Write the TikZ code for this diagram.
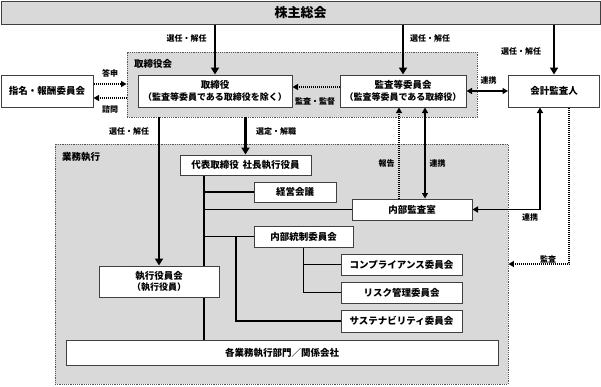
\documentclass[tikz,border=0pt]{standalone}
\usepackage{fontspec}
\setmainfont{Noto Sans CJK JP}
\usetikzlibrary{arrows.meta,calc}
\pgfdeclarelayer{bg}
\pgfdeclarelayer{lines}
\pgfsetlayers{bg,lines,main}
\definecolor{regfill}{HTML}{D9D9D9}
\definecolor{boxline}{HTML}{404040}
\definecolor{regline}{HTML}{555555}
\newcommand{\smallpar}{\fontsize{9}{11}\selectfont}
\tikzset{
  box/.style={draw=boxline,line width=1pt,fill=white,inner sep=0pt,align=center,font=\fontsize{9.5}{11.5}\selectfont\bfseries},
  region/.style={draw=regline,line width=0.9pt,dash pattern=on 1.2pt off 1pt,fill=regfill,inner sep=0pt},
  lbl/.style={font=\fontsize{8}{9}\selectfont\bfseries,inner sep=0pt},
  reglbl/.style={font=\fontsize{9.5}{11}\selectfont\bfseries,inner sep=0pt,anchor=west},
  bigarrow/.style={line width=2.2pt,-{Triangle[length=7pt,width=8pt]}},
  dblarrow/.style={line width=1.4pt,{Triangle[length=5.5pt,width=6pt]}-{Triangle[length=5.5pt,width=6pt]}},
  conn/.style={line width=1.2pt},
  dotarrow/.style={line width=1.1pt,dash pattern=on 1pt off 1pt,-{Triangle[length=5.5pt,width=6pt]}},
}
\begin{document}
\begin{tikzpicture}[x=1pt,y=-1pt]
\useasboundingbox (0,0) rectangle (601,386);
% regions
\begin{pgfonlayer}{bg}
\node[region,minimum width=350pt,minimum height=65pt] (torreg) at (302,84.5) {};
\node[region,minimum width=453pt,minimum height=240pt] (gyomu) at (281.5,264) {};
\end{pgfonlayer}
\node[reglbl] (torlbl) at (134,64) {取締役会};
\node[reglbl] (gyolbl) at (62,157) {業務執行};
% top
\node[draw=boxline,line width=1pt,fill=regfill,minimum width=599pt,minimum height=23pt,inner sep=0pt,font=\fontsize{13}{15}\selectfont\bfseries] (top) at (300.5,12.5) {株主総会};
% boxes
\node[box,minimum width=154pt,minimum height=32pt] (tor) at (215,91) {取締役\\{\smallpar（監査等委員である取締役を除く）}};
\node[box,minimum width=126pt,minimum height=32pt] (kansa) at (403,91) {監査等委員会\\{\smallpar（監査等委員である取締役）}};
\node[box,minimum width=91pt,minimum height=32pt] (kaikei) at (554,91) {会計監査人};
\node[box,minimum width=92pt,minimum height=32pt] (shimei) at (47,91) {指名・報酬委員会};
\node[box,minimum width=131pt,minimum height=20pt] (daihyo) at (245.5,165) {代表取締役\hspace{0.4em}社長執行役員};
\node[box,minimum width=82pt,minimum height=20pt] (keiei) at (295,192) {経営会議};
\node[box,minimum width=120pt,minimum height=21pt] (naibu) at (412,209.5) {内部監査室};
\node[box,minimum width=99pt,minimum height=21pt] (tosei) at (303.5,236.5) {内部統制委員会};
\node[box,minimum width=121pt,minimum height=21pt] (comp) at (401.5,264.5) {コンプライアンス委員会};
\node[box,minimum width=121pt,minimum height=21pt] (risk) at (401.5,292.5) {リスク管理委員会};
\node[box,minimum width=121pt,minimum height=22pt] (sust) at (401.5,321) {サステナビリティ委員会};
\node[box,minimum width=120pt,minimum height=31pt] (shikko) at (159,281.5) {執行役員会\\{\smallpar（執行役員）}};
\node[box,minimum width=432pt,minimum height=25pt] (kaku) at (282,352.5) {各業務執行部門／関係会社};
% helper x positions
\coordinate (trunk) at (204,0);
\coordinate (bx) at (236,0);
\coordinate (hx) at (399,0);
\coordinate (rx) at (425,0);
\coordinate (kx) at (540,0);
\coordinate (dx) at (569,0);
% connectors
\begin{pgfonlayer}{lines}
\draw[bigarrow] (tor.north |- top.south) -- (tor.north);
\draw[bigarrow] (kansa.north |- top.south) -- (kansa.north);
\draw[bigarrow] (kaikei.north |- top.south) -- (kaikei.north);
\draw[bigarrow] (shikko.north |- torreg.south) -- (shikko.north);
\draw[bigarrow] (daihyo.north |- torreg.south) -- (daihyo.north);
\draw[dblarrow] (kansa.east) -- (kaikei.west);
\draw[dotarrow] ([yshift=4pt]kansa.west) -- ([yshift=4pt]tor.east);
\draw[dotarrow] ([yshift=7pt]shimei.east) -- ([yshift=7pt]shimei.east -| torreg.west);
\draw[dotarrow] ([yshift=-7pt]shimei.east -| torreg.west) -- ([yshift=-7pt]shimei.east);
\draw[conn] (trunk |- daihyo.south) -- (trunk |- kaku.north);
\draw[conn] (trunk |- keiei.west) -- (keiei.west);
\draw[conn] (trunk |- naibu.west) -- (naibu.west);
\draw[conn] (trunk |- tosei.west) -- (tosei.west);
\draw[conn] (bx |- tosei.west) -- (bx |- sust.west) -- (sust.west);
\draw[conn] (tosei.south) |- (risk.west);
\draw[conn] (tosei.south |- comp.west) -- (comp.west);
\draw[dotarrow] (hx |- naibu.north) -- (hx |- kansa.south);
\draw[dblarrow] (rx |- kansa.south) -- (rx |- naibu.north);
\draw[dblarrow] (kx |- kaikei.south) |- (naibu.east);
\draw[dotarrow] (dx |- kaikei.south) |- (gyomu.east);
\end{pgfonlayer}
% labels
\node[lbl] (l1) at (186.5,38.5) {選任・解任};
\node[lbl] (l2) at (430,38.5) {選任・解任};
\node[lbl] (l3) at (521,51) {選任・解任};
\node[lbl] (l4) at (110,73) {答申};
\node[lbl] (l5) at (110,109.5) {諮問};
\node[lbl] (l6) at (315,101.5) {監査・監督};
\node[lbl] (l7) at (488.5,80) {連携};
\node[lbl] (l8) at (129,131) {選任・解任};
\node[lbl] (l9) at (276,131) {選定・解職};
\node[lbl] (l10) at (386.5,163) {報告};
\node[lbl] (l11) at (437.5,163) {連携};
\node[lbl] (l12) at (530,217.5) {連携};
\node[lbl] (l13) at (548,259) {監査};
\end{tikzpicture}
\end{document}
